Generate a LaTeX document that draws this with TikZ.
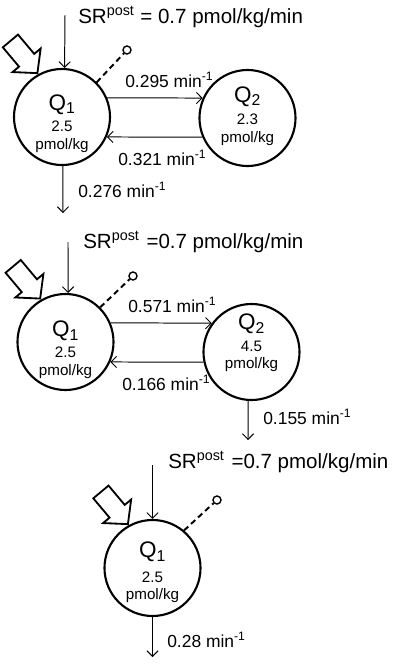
\documentclass[tikz,border=0pt]{standalone}
\usepackage{fontspec}
\setmainfont{Liberation Sans}
\usetikzlibrary{calc,shapes.arrows,positioning,arrows.meta}

\begin{document}
\begin{tikzpicture}[
      x=0.025cm,
      y=-0.025cm,
      pool/.style={
        circle,
        draw,
        line width=1.5pt,
        minimum size=2.4cm,
        inner sep=0pt
      },
      flow/.style={
        -{Straight Barb[length=4pt,width=8pt]},
        line width=0.7pt
      },
      inflow/.style={
        single arrow,
        draw,
        line width=1.3pt,
        inner sep=0pt,
        inner ysep=0.225cm,
        minimum height=1.05cm,
        minimum width=0pt,
        single arrow head extend=0.21cm,
        single arrow tip angle=95,
        rotate=-50,
        anchor=tip
      },
      tap/.style={
        circle,
        draw,
        line width=1pt,
        minimum size=0.2cm,
        inner sep=0pt
      },
      loss/.style={
        line width=1.4pt,
        dash pattern=on 4pt off 2.8pt
      },
      srlabel/.style={anchor=base west, inner sep=0pt, font=\fontsize{14.6pt}{17pt}\selectfont},
      rate/.style={anchor=base west, inner sep=0pt, font=\fontsize{12.4pt}{14pt}\selectfont},
      qname/.style={anchor=base, inner sep=0pt, font=\fontsize{16pt}{18pt}\selectfont},
      amount/.style={anchor=base, inner sep=0pt, font=\fontsize{10.8pt}{13pt}\selectfont}
    ]
      \useasboundingbox (0,0) rectangle (400,672);

      \node[pool] (q1a) at (62,117) {};
      \node[pool] (q2a) at (247.5,118) {};
      \node[qname] (q1aname) at (62,110) {Q\textsubscript{1}};
      \node[amount] (q1aamt) at (62,131) {2.5};
      \node[amount] (q1aunit) at (62,149) {pmol/kg};
      \node[qname] (q2aname) at (247.5,102) {Q\textsubscript{2}};
      \node[amount] (q2aamt) at (247.5,124) {2.3};
      \node[amount] (q2aunit) at (247.5,142) {pmol/kg};

      \node[srlabel] (sra) at (78,23.3) {SR\textsuperscript{post} = 0.7 pmol/kg/min};
      \coordinate (sratop) at (65,15);
      \coordinate (outa) at (63,213);
      \node[tap] (tapa) at (127,50) {};
      \node[inflow] (ina) at (q1a.119) {};

      \draw[flow] (sratop) -- (q1a.87);
      \draw[loss] (q1a.45) -- (tapa);
      \draw[flow] (q1a.23) -- (q2a.156);
      \draw[flow] (q2a.-157) -- (q1a.-24);
      \draw[flow] (q1a.-89) -- (outa);

      \node[rate] (k12a) at (125,87) {0.295 min\textsuperscript{-1}};
      \node[rate] (k21a) at (118,165) {0.321 min\textsuperscript{-1}};
      \node[rate] (k10a) at (78,197) {0.276 min\textsuperscript{-1}};

      \node[pool] (q1b) at (65.5,342) {};
      \node[pool] (q2b) at (251.5,352) {};
      \node[qname] (q1bname) at (65.5,336.5) {Q\textsubscript{1}};
      \node[amount] (q1bamt) at (65.5,357) {2.5};
      \node[amount] (q1bunit) at (65.5,375.5) {pmol/kg};
      \node[qname] (q2bname) at (251.5,329.5) {Q\textsubscript{2}};
      \node[amount] (q2bamt) at (251.5,351) {4.5};
      \node[amount] (q2bunit) at (251.5,368) {pmol/kg};

      \node[srlabel] (srb) at (83,248) {SR\textsuperscript{post}\,\,=0.7 pmol/kg/min};
      \coordinate (srbtop) at (68,242);
      \coordinate (outb) at (248,440);
      \node[tap] (tapb) at (133,276) {};
      \node[inflow] (inb) at (q1b.120) {};

      \draw[flow] (srbtop) -- (q1b.87);
      \draw[loss] (q1b.45) -- (tapb);
      \draw[flow] (q1b.23) -- (q2b.144);
      \draw[flow] (q2b.-168) -- (q1b.-24);
      \draw[flow] (q2b.-94) -- (outb);

      \node[rate] (k12b) at (128,312) {0.571 min\textsuperscript{-1}};
      \node[rate] (k21b) at (122,390) {0.166 min\textsuperscript{-1}};
      \node[rate] (k20b) at (263,424) {0.155 min\textsuperscript{-1}};

      \node[pool] (q1c) at (152.5,568) {};
      \node[qname] (q1cname) at (152.5,557.5) {Q\textsubscript{1}};
      \node[amount] (q1camt) at (152.5,582) {2.5};
      \node[amount] (q1cunit) at (152.5,599) {pmol/kg};

      \node[srlabel] (src) at (168,468) {SR\textsuperscript{post}\,\,=0.7 pmol/kg/min};
      \coordinate (srctop) at (152.5,465);
      \coordinate (outc) at (152.5,657);
      \node[tap] (tapc) at (217,500) {};
      \node[inflow] (inc) at (q1c.119) {};

      \draw[flow] (srctop) -- (q1c.north);
      \draw[loss] (q1c.50) -- (tapc);
      \draw[flow] (q1c.south) -- (outc);

      \node[rate] (k10c) at (167,647) {0.28 min\textsuperscript{-1}};
    \end{tikzpicture}
\end{document}
